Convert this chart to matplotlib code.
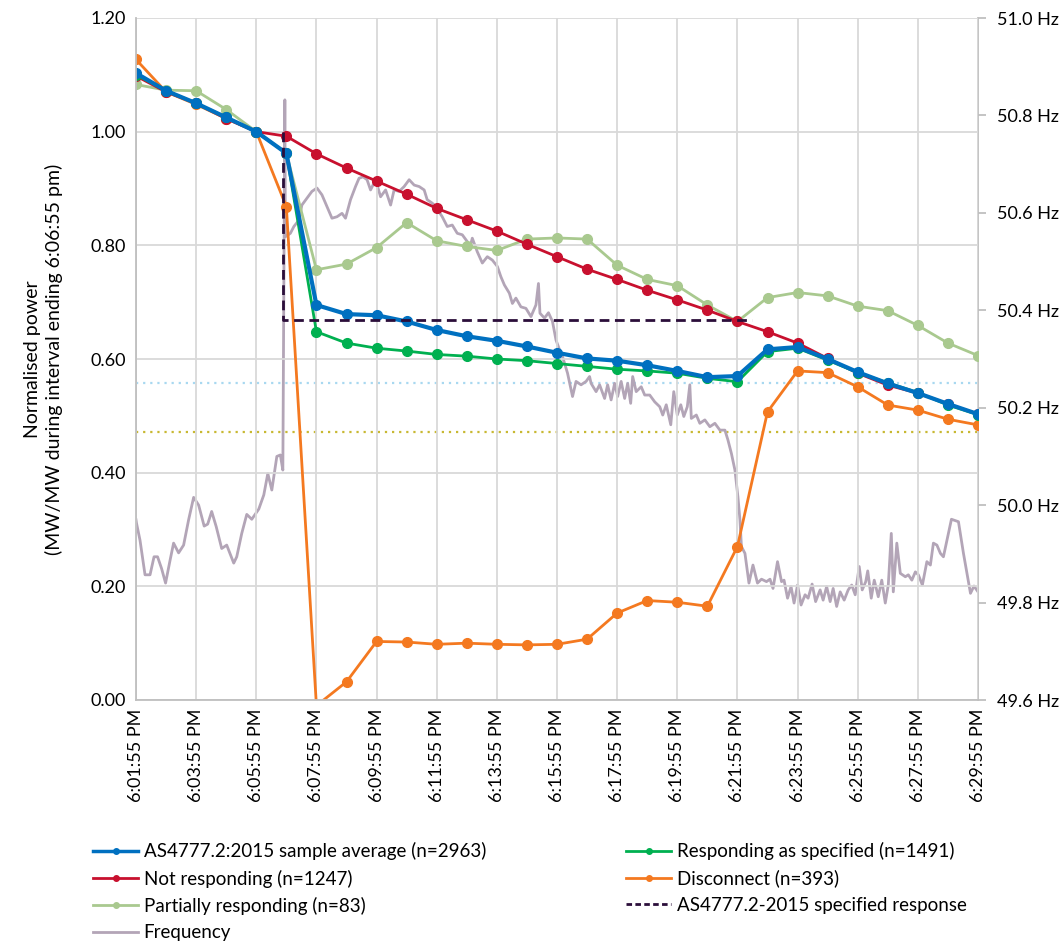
import matplotlib
matplotlib.use("Agg")
import matplotlib.pyplot as plt
from matplotlib.lines import Line2D
import numpy as np

plt.rcParams['font.family'] = ['Lato', 'DejaVu Sans']

# ---------------- data ----------------
times = [f"6:{m:02d}:55 PM" for m in range(1, 30)]   # one point per minute

sample_avg = [1.103, 1.072, 1.050, 1.025, 1.000, 0.962, 0.695, 0.679, 0.677, 0.666,
              0.651, 0.640, 0.632, 0.622, 0.611, 0.601, 0.597, 0.589, 0.579, 0.568,
              0.570, 0.617, 0.621, 0.600, 0.577, 0.557, 0.540, 0.521, 0.503]
responding = [1.100, 1.072, 1.050, 1.025, 1.000, 0.962, 0.648, 0.628, 0.619, 0.614,
              0.608, 0.605, 0.600, 0.597, 0.592, 0.587, 0.582, 0.579, 0.575, 0.566,
              0.560, 0.613, 0.619, 0.598, 0.576, 0.558, 0.541, 0.519, 0.502]
not_responding = [1.098, 1.070, 1.050, 1.023, 1.000, 0.992, 0.961, 0.936, 0.913, 0.890,
                  0.865, 0.845, 0.825, 0.802, 0.780, 0.758, 0.740, 0.721, 0.704, 0.686,
                  0.666, 0.648, 0.628, 0.601, 0.575, 0.554, 0.540, 0.521, 0.503]
disconnect = [1.127, 1.070, 1.048, 1.023, 1.000, 0.868, -0.010, 0.032, 0.103, 0.102,
              0.098, 0.100, 0.098, 0.097, 0.098, 0.107, 0.153, 0.175, 0.172, 0.165,
              0.270, 0.507, 0.579, 0.576, 0.551, 0.519, 0.510, 0.494, 0.484]
partial = [1.083, 1.073, 1.072, 1.039, 1.000, 0.962, 0.757, 0.767, 0.796, 0.840,
           0.808, 0.798, 0.791, 0.811, 0.813, 0.811, 0.765, 0.740, 0.729, 0.695,
           0.666, 0.708, 0.717, 0.711, 0.693, 0.685, 0.659, 0.628, 0.606]

# specified response (minutes after 6:01:55, normalised power)
spec_min = [4.9, 4.9, 20.5]
spec_val = [1.0, 0.669, 0.669]

# frequency trace (seconds after 6:01:55, Hz)
freq_sec = [0, 1, 8, 18, 28, 36, 43, 51, 59, 68, 75, 85, 95, 105, 115, 125, 136, 143, 151, 160,
            171, 181, 195, 201, 211, 221, 231, 245, 255, 263, 271, 281, 288, 293, 297, 298,
            308, 315, 325, 331, 341, 351, 361, 371, 381, 391, 401, 411, 418, 428, 438, 445,
            453, 461, 468, 478, 488, 498, 508, 515, 525, 535, 545, 555, 565, 575, 581, 591,
            598, 611, 621, 631, 641, 651, 661, 665, 671, 681, 691, 701, 711, 721, 728, 735,
            745, 751, 758, 768, 778, 788, 798, 803, 806, 815, 823, 831, 838, 845, 851, 861,
            871, 878, 888, 898, 905, 908, 918, 925, 935, 941, 948, 955, 961, 968, 975, 981,
            987, 991, 998, 1008, 1015, 1025, 1035, 1045, 1051, 1058, 1067, 1073, 1080, 1087,
            1093, 1100, 1105, 1108, 1118, 1125, 1135, 1145, 1155, 1165, 1175, 1181, 1188,
            1195, 1201, 1205, 1208, 1215, 1223, 1231, 1240, 1248, 1258, 1265, 1271, 1280,
            1288, 1293, 1300, 1307, 1313, 1320, 1327, 1335, 1341, 1349, 1356, 1365, 1371,
            1378, 1385, 1391, 1398, 1405, 1413, 1421, 1428, 1435, 1443, 1449, 1456, 1460,
            1467, 1473, 1481, 1488, 1495, 1501, 1507, 1511, 1518, 1525, 1535, 1541, 1548,
            1555, 1561, 1569, 1578, 1585, 1591, 1598, 1605, 1611, 1618, 1627, 1641, 1651,
            1665, 1672, 1680]
freq_hz = [49.970, 49.963, 49.928, 49.857, 49.857, 49.894, 49.894, 49.870, 49.840, 49.887,
           49.922, 49.902, 49.918, 49.970, 50.016, 50.000, 49.957, 49.961, 49.987, 49.956,
           49.911, 49.918, 49.881, 49.894, 49.942, 49.981, 49.971, 49.992, 50.021, 50.065,
           50.031, 50.100, 50.103, 50.072, 50.832, 50.551, 50.558, 50.572, 50.585, 50.616,
           50.630, 50.644, 50.651, 50.637, 50.613, 50.589, 50.592, 50.599, 50.589, 50.627,
           50.654, 50.671, 50.674, 50.668, 50.647, 50.668, 50.633, 50.647, 50.616, 50.647,
           50.644, 50.654, 50.668, 50.657, 50.654, 50.647, 50.627, 50.620, 50.613, 50.592,
           50.572, 50.575, 50.558, 50.555, 50.541, 50.524, 50.548, 50.520, 50.497, 50.510,
           50.503, 50.490, 50.469, 50.452, 50.435, 50.414, 50.425, 50.407, 50.404, 50.387,
           50.411, 50.455, 50.394, 50.384, 50.395, 50.377, 50.339, 50.319, 50.305, 50.271,
           50.223, 50.254, 50.247, 50.254, 50.264, 50.250, 50.233, 50.247, 50.219, 50.247,
           50.216, 50.250, 50.223, 50.254, 50.219, 50.250, 50.209, 50.264, 50.233, 50.243,
           50.226, 50.226, 50.212, 50.202, 50.185, 50.206, 50.165, 50.233, 50.185, 50.206,
           50.182, 50.202, 50.247, 50.178, 50.185, 50.168, 50.175, 50.161, 50.168, 50.154,
           50.154, 50.134, 50.106, 50.072, 50.017, 49.970, 49.915, 49.901, 49.840, 49.877,
           49.840, 49.848, 49.843, 49.848, 49.829, 49.884, 49.843, 49.846, 49.809, 49.833,
           49.799, 49.836, 49.795, 49.816, 49.809, 49.838, 49.802, 49.826, 49.805, 49.833,
           49.802, 49.829, 49.792, 49.822, 49.805, 49.826, 49.836, 49.816, 49.874, 49.826,
           49.843, 49.865, 49.809, 49.846, 49.812, 49.846, 49.799, 49.836, 49.942, 49.822,
           49.922, 49.860, 49.853, 49.857, 49.846, 49.863, 49.857, 49.836, 49.884, 49.877,
           49.922, 49.918, 49.901, 49.894, 49.928, 49.971, 49.966, 49.901, 49.819, 49.834,
           49.822]

ref_hz_upper = 50.25
ref_hz_lower = 50.15

# ---------------- figure ----------------
W, H = 1064, 941
fig = plt.figure(figsize=(W / 100, H / 100), dpi=100)
ax = fig.add_axes([136 / W, 1 - 700 / H, (978 - 136) / W, (700 - 18) / H])
ax2 = ax.twinx()
ax.set_zorder(ax2.get_zorder() + 1)
ax.patch.set_visible(False)

x = np.arange(len(times))

c_avg = '#0070C0'
c_resp = '#00B050'
c_not = '#C8102E'
c_disc = '#F47920'
c_part = '#A9C98F'
c_freq = '#B3A5B7'
c_spec = '#2B0E3A'

# frequency on secondary axis
fmin = np.array(freq_sec) / 60.0
ax2.plot(fmin, freq_hz, color=c_freq, lw=2.0, label='Frequency', zorder=3)
ax2.axhline(ref_hz_upper, color='#A8D8F0', lw=1.6, ls=(0, (1, 2.2)), zorder=2)
ax2.axhline(ref_hz_lower, color='#C8B832', lw=1.6, ls=(0, (1, 2.2)), zorder=2)
ax2.set_ylim(49.6, 51.0)
ax2.set_yticks(np.arange(49.6, 51.01, 0.2))
ax2.set_yticklabels([f"{v:.1f} Hz" for v in np.arange(49.6, 51.01, 0.2)])

mk = dict(marker='o', markersize=7)
l_part, = ax.plot(x, partial, color=c_part, lw=2.0, label='Partially responding (n=83)', **mk)
l_disc, = ax.plot(x, disconnect, color=c_disc, lw=2.0, label='Disconnect (n=393)', **mk)
l_not, = ax.plot(x, not_responding, color=c_not, lw=2.0, label='Not responding (n=1247)', **mk)
l_resp, = ax.plot(x, responding, color=c_resp, lw=2.0, label='Responding as specified (n=1491)', **mk)
l_avg, = ax.plot(x, sample_avg, color=c_avg, lw=3.0, label='AS4777.2:2015 sample average (n=2963)', **mk)
l_spec, = ax.plot(spec_min, spec_val, color=c_spec, lw=2.0, ls=(0, (3.5, 2)),
                  label='AS4777.2-2015 specified response', zorder=6)
l_freq = Line2D([], [], color=c_freq, lw=2.0)

ax.set_xlim(0, 28)
ax.set_ylim(0, 1.2)
ax.set_yticks(np.arange(0, 1.21, 0.2))
ax.set_yticklabels([f"{v:.2f}" for v in np.arange(0, 1.21, 0.2)])
ax.set_xticks(x[::2])
ax.set_xticklabels(times[::2], rotation=90)
ax.grid(True, color='#D9D9D9', lw=1.3)
ax.set_axisbelow(True)

for a in (ax, ax2):
    for s in a.spines.values():
        s.set_color('#BFBFBF')
        s.set_linewidth(1.3)
    a.spines['top'].set_visible(False)
ax.spines['right'].set_visible(False)
ax2.spines['left'].set_visible(False)
ax2.spines['bottom'].set_visible(False)

ax.tick_params(axis='both', length=0, labelsize=13, colors='#000000', pad=6)
ax.tick_params(axis='y', pad=7)
ax2.tick_params(axis='y', length=6, color='#BFBFBF', width=1.3, labelsize=13, pad=8)

ax.set_ylabel('Normalised power\n(MW/MW during interval ending 6:06:55 pm)',
              fontsize=14, labelpad=20, linespacing=1.25)

# legend (two independent columns)
lk = dict(frameon=False, fontsize=13.5, handlelength=2.4, handletextpad=0.3,
          labelspacing=0.5, borderpad=0, borderaxespad=0, loc='upper left')
m_leg = dict(marker='o', markersize=4)
h1 = [Line2D([], [], color=c_avg, lw=2.5, **m_leg), Line2D([], [], color=c_not, lw=2.0, **m_leg),
      Line2D([], [], color=c_part, lw=2.0, **m_leg), l_freq]
t1 = ['AS4777.2:2015 sample average (n=2963)', 'Not responding (n=1247)',
      'Partially responding (n=83)', 'Frequency']
h2 = [Line2D([], [], color=c_resp, lw=2.0, **m_leg), Line2D([], [], color=c_disc, lw=2.0, **m_leg),
      Line2D([], [], color=c_spec, lw=2.0, ls=(0, (2, 1.2)))]
t2 = ['Responding as specified (n=1491)', 'Disconnect (n=393)', 'AS4777.2-2015 specified response']
fig.legend(h1, t1, bbox_to_anchor=(93 / W, 1 - 842 / H), **lk)
fig.legend(h2, t2, bbox_to_anchor=(626 / W, 1 - 842 / H), **lk)

fig.savefig('out.png', dpi=100, facecolor='white')
